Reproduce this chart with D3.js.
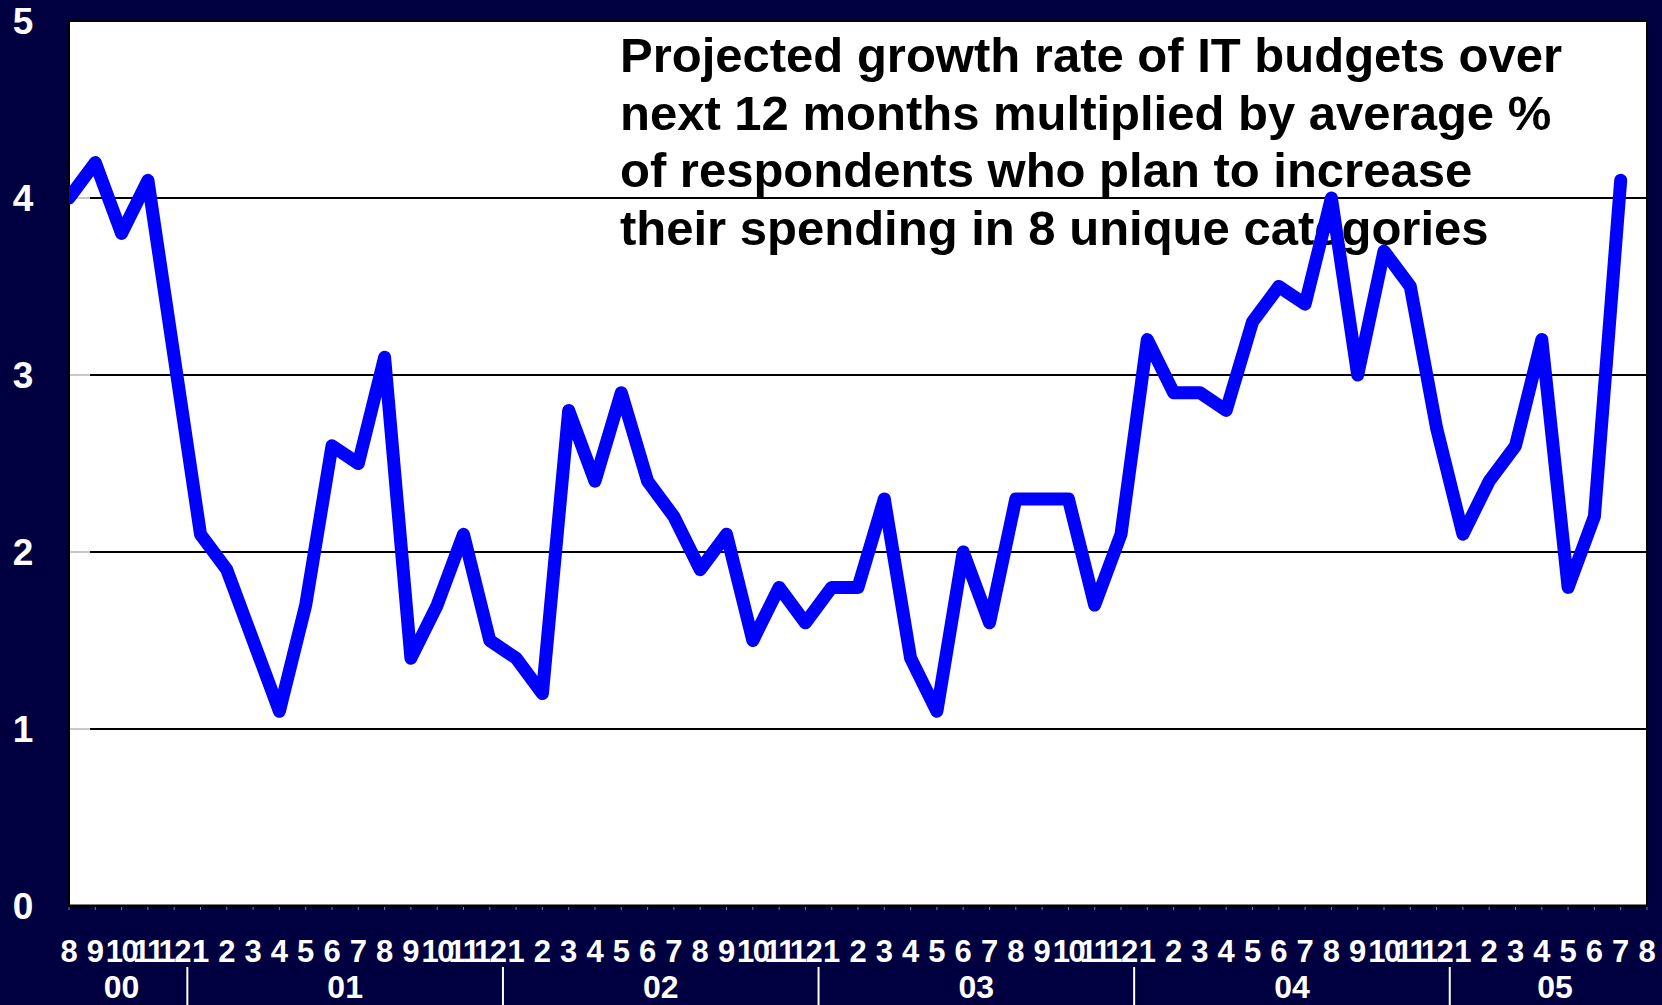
<!DOCTYPE html>
<html>
<head>
<meta charset="utf-8">
<script src="https://cdn.jsdelivr.net/npm/d3@7"></script>
<style>
  html, body { margin: 0; padding: 0; background: #000040; overflow: hidden; }
  svg { display: block; }
  text { font-family: "Liberation Sans", Arial, sans-serif; font-weight: bold; }
</style>
</head>
<body>
<svg id="chart" width="1662" height="1005"></svg>
<script>
// ---- data ----
const yearLabels = ["00", "01", "02", "03", "04", "05"];
const monthLabels = [
  "8","9","10","11","12",
  "1","2","3","4","5","6","7","8","9","10","11","12",
  "1","2","3","4","5","6","7","8","9","10","11","12",
  "1","2","3","4","5","6","7","8","9","10","11","12",
  "1","2","3","4","5","6","7","8","9","10","11","12",
  "1","2","3","4","5","6","7","8"
];
const values = [
  4.0, 4.2, 3.8, 4.1, 3.1, 2.1, 1.9, 1.5, 1.1, 1.7,
  2.6, 2.5, 3.1, 1.4, 1.7, 2.1, 1.5, 1.4, 1.2, 2.8,
  2.4, 2.9, 2.4, 2.2, 1.9, 2.1, 1.5, 1.8, 1.6, 1.8,
  1.8, 2.3, 1.4, 1.1, 2.0, 1.6, 2.3, 2.3, 2.3, 1.7,
  2.1, 3.2, 2.9, 2.9, 2.8, 3.3, 3.5, 3.4, 4.0, 3.0,
  3.7, 3.5, 2.7, 2.1, 2.4, 2.6, 3.2, 1.8, 2.2, 4.1
];
const yTicks = [0, 1, 2, 3, 4, 5];
const noteLines = [
  "Projected growth rate of IT budgets over",
  "next 12 months multiplied by average %",
  "of respondents who plan to increase",
  "their spending in 8 unique categories"
];

// ---- build categories (year index + month) ----
let yi = 0;
const categories = monthLabels.map((m, i) => {
  if (i > 0 && m === "1") yi++;
  return { key: i, month: m, year: yearLabels[yi] };
});

// ---- layout ----
const L = 69, R = 1647, T = 21, B = 906;
const svg = d3.select("#chart");
svg.append("rect").attr("width", 1662).attr("height", 1005).attr("fill", "#000040");

const x = d3.scalePoint().domain(categories.map(d => d.key)).range([L, R]).padding(0);
const y = d3.scaleLinear().domain([0, 5]).range([B, T]);

// plot area
svg.append("rect").attr("x", L).attr("y", T).attr("width", R - L).attr("height", B - T)
  .attr("fill", "#ffffff");

svg.append("clipPath").attr("id", "plotclip")
  .append("rect").attr("x", L).attr("y", T).attr("width", R - L).attr("height", B - T);

// gridlines
svg.append("g").selectAll("line").data(yTicks.filter(v => v > 0 && v < 5)).join("line")
  .attr("x1", L).attr("x2", R).attr("y1", d => y(d)).attr("y2", d => y(d))
  .attr("stroke", "#000").attr("stroke-width", 2);

// y tick marks (light)
svg.append("g").selectAll("line").data(yTicks).join("line")
  .attr("x1", L).attr("x2", L + 21).attr("y1", d => y(d)).attr("y2", d => y(d))
  .attr("stroke", "#c8c8c8").attr("stroke-width", 2);

// border
svg.append("rect").attr("x", L).attr("y", T).attr("width", R - L).attr("height", B - T)
  .attr("fill", "none").attr("stroke", "#000").attr("stroke-width", 2);
svg.append("line").attr("x1", L).attr("x2", R).attr("y1", B).attr("y2", B)
  .attr("stroke", "#000").attr("stroke-width", 3);

// bottom small ticks
svg.append("g").selectAll("line").data(categories).join("line")
  .attr("x1", d => x(d.key)).attr("x2", d => x(d.key))
  .attr("y1", B + 1).attr("y2", B + 4)
  .attr("stroke", "#8080a0").attr("stroke-width", 1);

// annotation text
svg.append("g").selectAll("text").data(noteLines).join("text")
  .attr("x", 620).attr("y", (d, i) => 72 + i * 57.7)
  .attr("font-size", 49).attr("fill", "#000")
  .text(d => d);

// data line
const line = d3.line().x((d, i) => x(categories[i].key)).y(d => y(d));
svg.append("path").datum(values)
  .attr("clip-path", "url(#plotclip)")
  .attr("d", line)
  .attr("fill", "none").attr("stroke", "#0000ff").attr("stroke-width", 13)
  .attr("stroke-linejoin", "round").attr("stroke-linecap", "round");

// y labels
svg.append("g").selectAll("text").data(yTicks).join("text")
  .attr("x", 23).attr("y", d => y(d)).attr("dy", "0.36em")
  .attr("text-anchor", "middle").attr("font-size", 37).attr("fill", "#fff")
  .text(d => d);

// month labels
svg.append("g").selectAll("text").data(categories).join("text")
  .attr("x", d => x(d.key)).attr("y", 962)
  .attr("text-anchor", "middle").attr("font-size", 31).attr("fill", "#fff")
  .attr("letter-spacing", d => d.month.length > 1 ? -1.5 : 0)
  .text(d => d.month);

// year groups
const groups = d3.groups(categories, d => d.year).map(([yr, arr]) => ({
  year: yr, first: arr[0].key, last: arr[arr.length - 1].key
}));
const step = x.step();
svg.append("g").selectAll("text").data(groups).join("text")
  .attr("x", d => (x(d.first) + x(d.last)) / 2).attr("y", 998)
  .attr("text-anchor", "middle").attr("font-size", 32).attr("fill", "#fff")
  .text(d => d.year);
svg.append("g").selectAll("line").data(groups.slice(1)).join("line")
  .attr("x1", d => x(d.first) - step / 2).attr("x2", d => x(d.first) - step / 2)
  .attr("y1", 967).attr("y2", 1005)
  .attr("stroke", "#fff").attr("stroke-width", 2);
</script>
</body>
</html>
